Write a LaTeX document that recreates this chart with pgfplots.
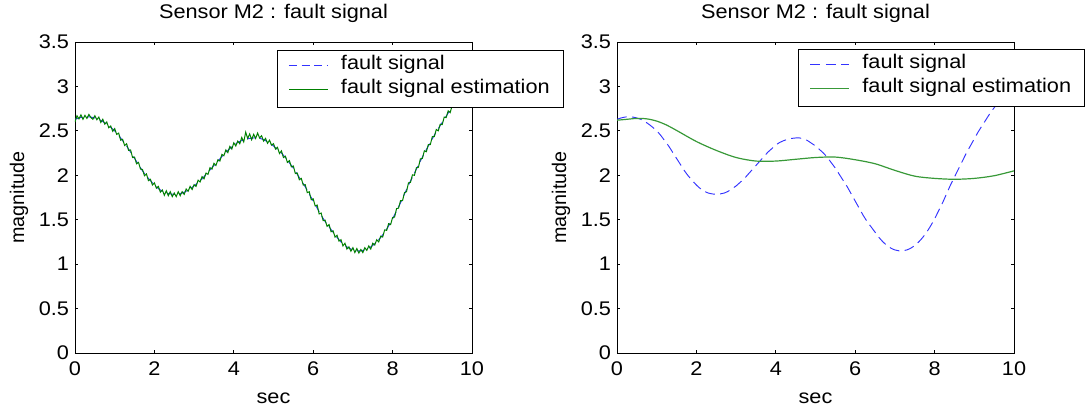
\documentclass[border=0pt]{standalone}
\usepackage{fontspec}
\setmainfont[FakeStretch=1.1]{Liberation Sans}
\newfontfamily\plainfont{Liberation Sans}
\usepackage{graphicx}
\usepackage{pgfplots}
\usepackage{pgfplotstable}
\pgfplotsset{compat=1.18}
\definecolor{mblue}{rgb}{0.2,0.2,1}
\definecolor{mgreen}{rgb}{0,0.5,0}
\definecolor{mgreenl}{rgb}{0.22,0.6,0.22}

\pgfplotstableread{
t y
0.0 2.63
0.1 2.645
0.2 2.655
0.3 2.66
0.4 2.655
0.5 2.645
0.6 2.63
0.7 2.605
0.8 2.575
0.9 2.54
1.0 2.50
1.1 2.45
1.2 2.39
1.3 2.33
1.4 2.26
1.5 2.19
1.6 2.12
1.7 2.05
1.8 1.99
1.9 1.94
2.0 1.89
2.1 1.85
2.2 1.82
2.3 1.80
2.4 1.79
2.5 1.785
2.6 1.79
2.7 1.80
2.8 1.82
2.9 1.85
3.0 1.88
3.1 1.92
3.2 1.96
3.3 2.01
3.4 2.06
3.5 2.11
3.6 2.16
3.7 2.21
3.8 2.26
3.9 2.30
4.0 2.34
4.1 2.37
4.2 2.39
4.3 2.405
4.4 2.415
4.5 2.42
4.6 2.42
4.7 2.41
4.8 2.39
4.9 2.36
5.0 2.33
5.1 2.29
5.2 2.25
5.3 2.20
5.4 2.14
5.5 2.08
5.6 2.01
5.7 1.94
5.8 1.87
5.9 1.79
6.0 1.71
6.1 1.63
6.2 1.55
6.3 1.48
6.4 1.42
6.5 1.36
6.6 1.30
6.7 1.25
6.8 1.21
6.9 1.18
7.0 1.16
7.1 1.15
7.2 1.15
7.3 1.16
7.4 1.18
7.5 1.21
7.6 1.25
7.7 1.30
7.8 1.36
7.9 1.43
8.0 1.51
8.1 1.60
8.2 1.69
8.3 1.79
8.4 1.89
8.5 1.98
8.6 2.07
8.7 2.16
8.8 2.25
8.9 2.33
9.0 2.41
9.1 2.49
9.2 2.56
9.3 2.63
9.4 2.70
9.5 2.76
9.6 2.82
9.7 2.88
9.8 2.93
9.9 2.98
10.0 3.02
}\faultsignal

\pgfplotstableread{
t y
0.00 2.60
0.05 2.67
0.10 2.635
0.15 2.68
0.20 2.63
0.25 2.675
0.30 2.64
0.35 2.685
0.40 2.65
0.45 2.63
0.50 2.67
0.55 2.625
0.60 2.655
0.65 2.595
0.70 2.63
0.75 2.575
0.80 2.60
0.85 2.535
0.90 2.555
0.95 2.495
1.00 2.525
1.05 2.46
1.10 2.475
1.15 2.395
1.20 2.405
1.25 2.335
1.30 2.355
1.35 2.28
1.40 2.285
1.45 2.20
1.50 2.205
1.55 2.13
1.60 2.145
1.65 2.07
1.70 2.065
1.75 1.995
1.80 2.015
1.85 1.94
1.90 1.955
1.95 1.89
2.00 1.915
2.05 1.855
2.10 1.875
2.15 1.81
2.20 1.835
2.25 1.775
2.30 1.825
2.35 1.77
2.40 1.815
2.45 1.76
2.50 1.80
2.55 1.76
2.60 1.815
2.65 1.77
2.70 1.815
2.75 1.785
2.80 1.845
2.85 1.82
2.90 1.875
2.95 1.84
3.00 1.895
3.05 1.875
3.10 1.945
3.15 1.925
3.20 1.985
3.25 1.96
3.30 2.025
3.35 2.01
3.40 2.085
3.45 2.07
3.50 2.135
3.55 2.11
3.60 2.175
3.65 2.16
3.70 2.235
3.75 2.22
3.80 2.285
3.85 2.255
3.90 2.325
3.95 2.295
4.00 2.365
4.05 2.33
4.10 2.385
4.15 2.355
4.20 2.425
4.25 2.375
4.30 2.485
4.35 2.415
4.40 2.465
4.45 2.40
4.50 2.46
4.55 2.415
4.60 2.475
4.65 2.42
4.70 2.445
4.75 2.385
4.80 2.415
4.85 2.36
4.90 2.395
4.95 2.34
5.00 2.355
5.05 2.295
5.10 2.315
5.15 2.245
5.20 2.275
5.25 2.20
5.30 2.215
5.35 2.145
5.40 2.165
5.45 2.095
5.50 2.105
5.55 2.02
5.60 2.025
5.65 1.95
5.70 1.965
5.75 1.89
5.80 1.895
5.85 1.805
5.90 1.815
5.95 1.725
6.00 1.735
6.05 1.655
6.10 1.665
6.15 1.565
6.20 1.575
6.25 1.49
6.30 1.495
6.35 1.425
6.40 1.445
6.45 1.365
6.50 1.375
6.55 1.305
6.60 1.325
6.65 1.26
6.70 1.275
6.75 1.205
6.80 1.235
6.85 1.17
6.90 1.195
6.95 1.145
7.00 1.185
7.05 1.13
7.10 1.175
7.15 1.125
7.20 1.165
7.25 1.13
7.30 1.185
7.35 1.155
7.40 1.205
7.45 1.17
7.50 1.235
7.55 1.215
7.60 1.275
7.65 1.25
7.70 1.315
7.75 1.305
7.80 1.385
7.85 1.38
7.90 1.455
7.95 1.445
8.00 1.525
8.05 1.53
8.10 1.625
8.15 1.63
8.20 1.715
8.25 1.715
8.30 1.805
8.35 1.815
8.40 1.915
8.45 1.92
8.50 2.005
8.55 2.00
8.60 2.085
8.65 2.09
8.70 2.185
8.75 2.19
8.80 2.275
8.85 2.265
8.90 2.345
8.95 2.345
9.00 2.435
9.05 2.435
9.10 2.515
9.15 2.50
9.20 2.575
9.25 2.57
9.30 2.655
9.35 2.65
9.40 2.725
9.45 2.705
9.50 2.785
9.55 2.775
9.60 2.845
9.65 2.835
9.70 2.905
9.75 2.89
9.80 2.955
9.85 2.94
9.90 3.005
9.95 2.985
10.00 3.03
}\estleft

\pgfplotstableread{
t y
0.0 2.62
0.25 2.63
0.5 2.64
0.75 2.635
1.0 2.61
1.25 2.565
1.5 2.505
2.0 2.38
2.5 2.28
3.0 2.20
3.5 2.16
4.0 2.16
4.5 2.18
5.0 2.20
5.5 2.205
6.0 2.175
6.5 2.13
7.0 2.055
7.5 1.99
8.0 1.965
8.5 1.955
9.0 1.965
9.5 1.995
10.0 2.05
}\estright

\newcommand{\fs}{\fontsize{14.8}{17}\selectfont}

\pgfplotsset{
  mystyle/.style={
    scale only axis, width=297.75pt, height=233.25pt,
    xmin=0, xmax=10, ymin=0, ymax=3.5,
    xtick={0,2,4,6,8,10}, ytick={0,0.5,1,1.5,2,2.5,3,3.5},
    tick align=inside, major tick length=2.5pt,
    axis line style={line width=0.6pt, black},
    every tick/.style={black, line width=0.6pt},
    /pgf/number format/assume math mode=true,
    ticklabel style={font=\fs},
    xticklabel style={yshift=-3pt},
    yticklabel style={xshift=-1pt},
    title={Sensor M2 : fault signal},
    title style={at={(axis description cs:0.5,1.0514)}, anchor=base, font=\fs, inner sep=0pt},
    xlabel={sec},
    xlabel style={at={(axis description cs:0.5,-0.146)}, anchor=center, font=\fs},
    ylabel={\plainfont\fontsize{14.8}{17}\selectfont magnitude},
    ylabel style={at={(axis description cs:-0.141,0.5)}, anchor=center},
    legend cell align=left,
    legend image code/.code={\path[draw=none,fill=none] (0pt,-2pt) rectangle (37pt,2pt); \draw[#1] (0pt,1pt) -- (29.25pt,1pt);},
    legend style={draw=black, line width=0.6pt, fill=white, font=\fs,
      inner xsep=8.25pt, inner ysep=3.25pt, row sep=0pt,
      nodes={inner xsep=2pt, inner ysep=1pt, text height=10pt, text depth=6pt}},
  }
}

\begin{document}
\begin{tikzpicture}
\useasboundingbox (0,0) rectangle (814.5pt,310.5pt);
\begin{axis}[mystyle, at={(56.25pt,45.75pt)}, anchor=south west,
  legend style={at={(0.509,0.974)}, anchor=north west}]
\addplot[mblue, line width=0.7pt, dash pattern=on 6pt off 3.5pt] table[x=t,y=y] {\faultsignal};
\addlegendentry{fault signal}
\addplot[mgreen, line width=0.75pt] table[x=t,y=y] {\estleft};
\addlegendentry{fault signal estimation}
\end{axis}
\begin{axis}[mystyle, at={(462.75pt,45.75pt)}, anchor=south west,
  legend style={at={(0.457,0.977)}, anchor=north west}]
\addplot[mblue, line width=0.7pt, dash pattern=on 7.5pt off 4pt, smooth] table[x=t,y=y] {\faultsignal};
\addlegendentry{fault signal}
\addplot[mgreenl, line width=0.9pt, smooth] table[x=t,y=y] {\estright};
\addlegendentry{fault signal estimation}
\end{axis}
\end{tikzpicture}
\end{document}
